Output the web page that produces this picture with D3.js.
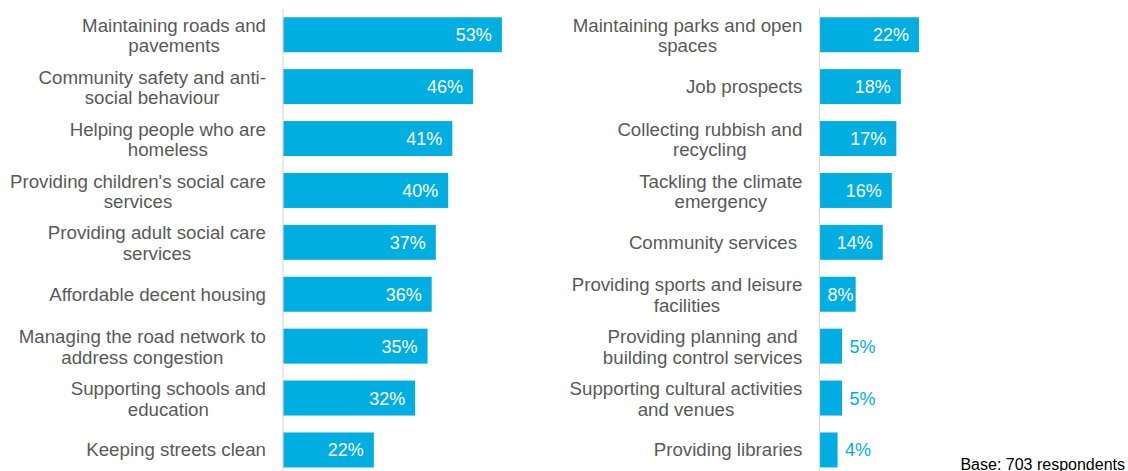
<!DOCTYPE html>
<html>
<head>
<meta charset="utf-8">
<script src="https://cdn.jsdelivr.net/npm/d3@7"></script>
<style>
  html, body { margin: 0; padding: 0; background: #fff; }
  svg { display: block; }
  text { font-family: "Liberation Sans", Arial, sans-serif; white-space: pre; }
</style>
</head>
<body>
<svg id="chart" width="1128" height="471"></svg>
<script>
// ---- Data ----
const leftCategories = [
  ["Maintaining roads and", "pavements"],
  ["Community safety and anti-", "social behaviour"],
  ["Helping people who are", "homeless"],
  ["Providing children's social care", "services"],
  ["Providing adult social care", "services"],
  ["Affordable decent housing"],
  ["Managing the road network to", "address congestion"],
  ["Supporting schools and", "education"],
  ["Keeping streets clean"]
];
const leftValues = [53, 46, 41, 40, 37, 36, 35, 32, 22];

const rightCategories = [
  ["Maintaining parks and open", "spaces"],
  ["Job prospects"],
  ["Collecting rubbish and", "recycling"],
  ["Tackling the climate", "emergency"],
  ["Community services "],
  ["Providing sports and leisure", "facilities"],
  ["Providing planning and", "building control services"],
  ["Supporting cultural activities", "and venues"],
  ["Providing libraries"]
];
const rightValues = [22, 18, 17, 16, 14, 8, 5, 5, 4];

const footnote = "Base: 703 respondents";

// ---- Style ----
const barColor = "#00AEE1";
const textColor = "#595959";
const axisColor = "#D9D9D9";
const catFont = 18.7;
const valFont = 18;

const svg = d3.select("#chart");

function drawPanel(cats, vals, axisX, pxPerUnit, domainMax, labelRight) {
  const n = vals.length;
  const y = d3.scaleBand()
    .domain(d3.range(n))
    .range([8.8, 475.9])
    .paddingInner(0.326)
    .paddingOuter(0.163);
  const x = d3.scaleLinear()
    .domain([0, domainMax])
    .range([axisX, axisX + domainMax * pxPerUnit]);

  const g = svg.append("g");

  // bars
  g.selectAll("rect.bar").data(vals).join("rect")
    .attr("class", "bar")
    .attr("x", x(0))
    .attr("y", (d, i) => y(i))
    .attr("width", d => x(d) - x(0))
    .attr("height", y.bandwidth())
    .attr("fill", barColor);

  // axis line
  const axis = d3.axisLeft(y).tickSize(0).tickFormat("");
  const ax = g.append("g").attr("transform", `translate(${x(0)},0)`).call(axis);
  ax.select(".domain").attr("stroke", axisColor).attr("stroke-width", 1.2)
    .attr("d", `M0,9V471`);

  // category labels (block right-aligned, lines centred within block)
  cats.forEach((lines, i) => {
    const cy = y(i) + y.bandwidth() / 2;
    const lg = g.append("g");
    const ts = lines.map((ln, k) => lg.append("text")
      .attr("font-size", catFont)
      .attr("fill", textColor)
      .attr("text-anchor", "middle")
      .attr("dy", "0.34em")
      .text(ln));
    const widths = ts.map(t => t.node().getComputedTextLength());
    const maxW = d3.max(widths);
    const lineH = 20.5;
    const startY = cy - (lines.length - 1) * lineH / 2 + (lines.length > 1 ? 1 : 0);
    ts.forEach((t, k) => {
      t.attr("x", labelRight - maxW / 2).attr("y", startY + k * lineH);
    });
  });

  // value labels
  vals.forEach((v, i) => {
    const cy = y(i) + y.bandwidth() / 2;
    const t = g.append("text")
      .attr("font-size", valFont)
      .attr("dy", "0.36em")
      .attr("y", cy)
      .text(v + "%");
    const tw = t.node().getComputedTextLength();
    const bw = x(v) - x(0);
    if (bw < tw + 6) {
      t.attr("x", x(v) + 7.5).attr("text-anchor", "start").attr("fill", barColor);
    } else {
      const pad = Math.max(2, Math.min(10, bw - tw - 8));
      t.attr("x", x(v) - pad).attr("text-anchor", "end").attr("fill", "#fff");
    }
  });
}

drawPanel(leftCategories, leftValues, 283, 4.13, 60, 266);
drawPanel(rightCategories, rightValues, 819.5, 4.52, 25, 802.3);

svg.append("text")
  .attr("x", 1125)
  .attr("y", 469.5)
  .attr("text-anchor", "end")
  .attr("font-size", 16)
  .attr("fill", "#000")
  .text(footnote);
</script>
</body>
</html>
